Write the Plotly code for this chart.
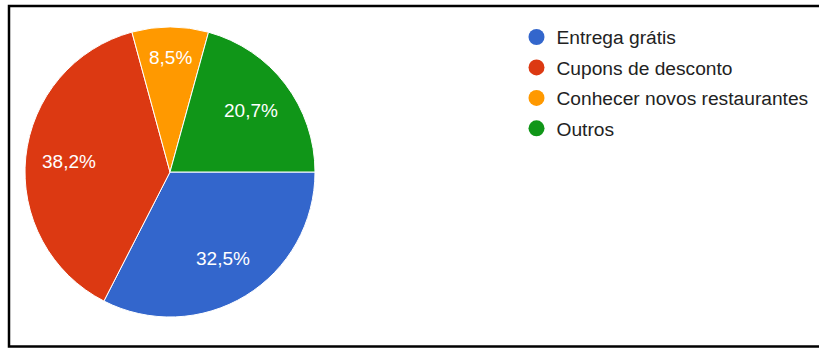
import math
import plotly.graph_objects as go

# Motivos para usar o aplicativo (percentual de respostas)
categories = ["Entrega grátis", "Cupons de desconto", "Conhecer novos restaurantes", "Outros"]
shares = [32.5, 38.2, 8.5, 20.7]
colors = ["#3366cc", "#dc3912", "#ff9900", "#109618"]

W, H = 819, 348
font_family = "Arial, Liberation Sans, sans-serif"
label_size = 19

# Pie placement in pixels (centre and radius)
cx, cy, R = 170, 172, 145

fig = go.Figure()

fig.add_trace(go.Pie(
    labels=categories,
    values=shares,
    sort=False,
    direction="clockwise",
    rotation=90,
    marker=dict(colors=colors, line=dict(color="white", width=1)),
    textinfo="none",
    domain=dict(x=[(cx - R) / W, (cx + R) / W], y=[1 - (cy + R) / H, 1 - (cy - R) / H]),
    showlegend=False,
    hoverinfo="label+percent",
))

# Percentage labels placed along each slice's mid-angle
total = sum(shares)
start = 0.0  # degrees, clockwise from 3 o'clock
for v in shares:
    sweep = 360 * v / total
    mid = math.radians(start + sweep / 2)
    txt = f"{v:.1f}%".replace(".", ",")
    tw = len(txt) * 0.56 * label_size
    half = math.radians(sweep / 2)
    rho = 0.70 * R
    if half < math.radians(45):
        rho_fit = (tw / 2 + 7.5) / math.tan(half) + label_size / 2
        rho = min(max(rho, rho_fit), 0.82 * R)
    px = cx + rho * math.cos(mid)
    py = cy + rho * math.sin(mid)
    fig.add_annotation(
        x=px / W, y=1 - py / H, xref="paper", yref="paper",
        text=txt, showarrow=False,
        font=dict(family=font_family, size=label_size, color="white"),
        xanchor="center", yanchor="middle",
    )
    start += sweep

# Circular legend markers
for name, col in zip(categories, colors):
    fig.add_trace(go.Scatter(
        x=[None], y=[None], mode="markers", name=name, legendgroup=name,
        marker=dict(symbol="circle", size=16, color=col),
        showlegend=True,
    ))

fig.update_layout(
    width=W, height=H,
    margin=dict(l=0, r=0, t=0, b=0),
    paper_bgcolor="white",
    plot_bgcolor="white",
    xaxis=dict(visible=False),
    yaxis=dict(visible=False),
    legend=dict(
        x=516.5 / W, y=1 - 18 / H, xanchor="left", yanchor="top",
        font=dict(family=font_family, size=19.2, color="#222222"),
        bgcolor="rgba(0,0,0,0)",
        tracegroupgap=2.5,
    ),
    shapes=[dict(
        type="path", xref="paper", yref="paper",
        path=f"M 1.02,{1 - 6 / H} L {9 / W},{1 - 6 / H} L {9 / W},{1 - 346.5 / H} L 1.02,{1 - 346.5 / H}",
        line=dict(color="black", width=2.5),
    )],
)

fig.write_html("out.html")
